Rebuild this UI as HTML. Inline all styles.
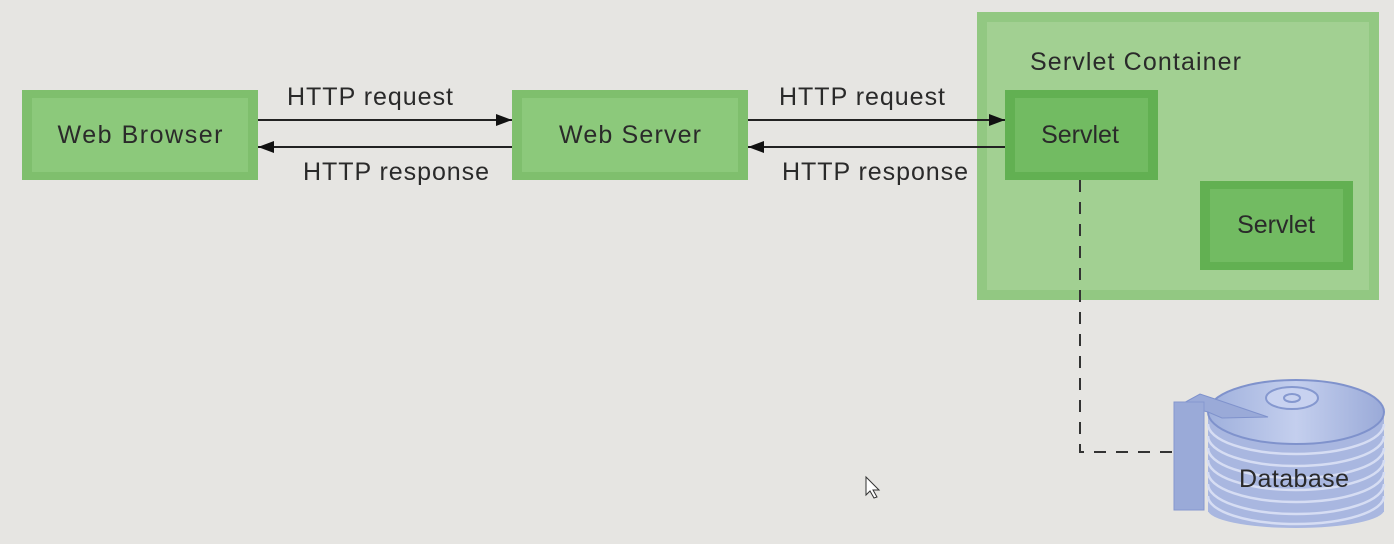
<!DOCTYPE html>
<html><head><meta charset="utf-8"><style>
html,body{margin:0;padding:0;background:#e6e5e2;}
svg{display:block}
text{font-family:"Liberation Sans",sans-serif;fill:#2a2a2a}
</style></head><body>
<svg width="1394" height="544" viewBox="0 0 1394 544">
<defs>
<marker id="ah" markerWidth="16" markerHeight="12" refX="16" refY="6" orient="auto" markerUnits="userSpaceOnUse"><path d="M0,0 L16,6 L0,12 Z" fill="#111"/></marker>
<linearGradient id="disk" x1="0" y1="0" x2="1" y2="0"><stop offset="0" stop-color="#9fb0dc"/><stop offset="0.5" stop-color="#c4cfee"/><stop offset="1" stop-color="#9aaad8"/></linearGradient>
</defs>
<rect width="1394" height="544" fill="#e6e5e2"/>
<rect x="22" y="90" width="236" height="90" fill="#7fbf6d"/>
<rect x="32" y="98" width="216" height="74" fill="#8cc97b"/>
<text x="140" y="143" font-size="25" text-anchor="middle" textLength="165">Web Browser</text>
<rect x="512" y="90" width="236" height="90" fill="#7fbf6d"/>
<rect x="522" y="98" width="216" height="74" fill="#8cc97b"/>
<text x="630" y="143" font-size="25" text-anchor="middle" textLength="142">Web Server</text>
<rect x="977" y="12" width="402" height="288" fill="#92c882"/>
<rect x="987" y="22" width="382" height="268" fill="#a2d092"/>
<text x="1030" y="70" font-size="25" textLength="211">Servlet Container</text>
<rect x="1005" y="90" width="153" height="90" fill="#62b052"/>
<rect x="1015" y="98" width="133" height="74" fill="#72bb62"/>
<text x="1080" y="143" font-size="25" text-anchor="middle">Servlet</text>
<rect x="1200" y="181" width="153" height="89" fill="#62b052"/>
<rect x="1210" y="189" width="133" height="73" fill="#72bb62"/>
<text x="1276" y="233" font-size="25" text-anchor="middle">Servlet</text>
<line x1="258" y1="120" x2="512" y2="120" stroke="#222" stroke-width="2" marker-end="url(#ah)"/>
<line x1="512" y1="147" x2="258" y2="147" stroke="#222" stroke-width="2" marker-end="url(#ah)"/>
<line x1="748" y1="120" x2="1005" y2="120" stroke="#222" stroke-width="2" marker-end="url(#ah)"/>
<line x1="1005" y1="147" x2="748" y2="147" stroke="#222" stroke-width="2" marker-end="url(#ah)"/>
<text x="370" y="105" font-size="25" text-anchor="middle" textLength="166">HTTP request</text>
<text x="396" y="180" font-size="25" text-anchor="middle" textLength="186">HTTP response</text>
<text x="862" y="105" font-size="25" text-anchor="middle" textLength="166">HTTP request</text>
<text x="875" y="180" font-size="25" text-anchor="middle" textLength="186">HTTP response</text>
<path d="M1080,180 V452 H1172" fill="none" stroke="#333" stroke-width="2" stroke-dasharray="12,10"/>
<rect x="1208" y="412" width="176" height="100" fill="#a9b7e0"/>
<ellipse cx="1296" cy="510" rx="88" ry="18" fill="#a9b7e0"/>
<g stroke="#d6ddf3" stroke-width="2.5" fill="none">
<path d="M1208,424 A88,30 0 0 0 1384,424"/><path d="M1208,436 A88,30 0 0 0 1384,436"/>
<path d="M1208,448 A88,30 0 0 0 1384,448"/><path d="M1208,460 A88,30 0 0 0 1384,460"/>
<path d="M1208,472 A88,30 0 0 0 1384,472"/><path d="M1208,484 A88,30 0 0 0 1384,484"/>
<path d="M1208,496 A88,28 0 0 0 1384,496"/>
</g>
<ellipse cx="1296" cy="412" rx="88" ry="32" fill="url(#disk)" stroke="#7f92cc" stroke-width="2"/>
<ellipse cx="1292" cy="398" rx="26" ry="11" fill="#c8d2f0" stroke="#8598cf" stroke-width="2"/>
<ellipse cx="1292" cy="398" rx="8" ry="4" fill="none" stroke="#8598cf" stroke-width="2"/>
<path d="M1180,405 L1200,394 L1218,400 L1268,417 L1222,418 L1208,412 Z" fill="#9aaad8" stroke="#7f92cc"/>
<rect x="1174" y="402" width="30" height="108" fill="#9aaad8" stroke="#8598cf"/>
<text x="1294" y="487" font-size="25" text-anchor="middle" textLength="110">Database</text>
<path d="M866,477 L866,495 L870,491 L874,498 L877,497 L873,490 L879,490 Z" fill="#fff" stroke="#333" stroke-width="1"/>
</svg>
</body></html>
